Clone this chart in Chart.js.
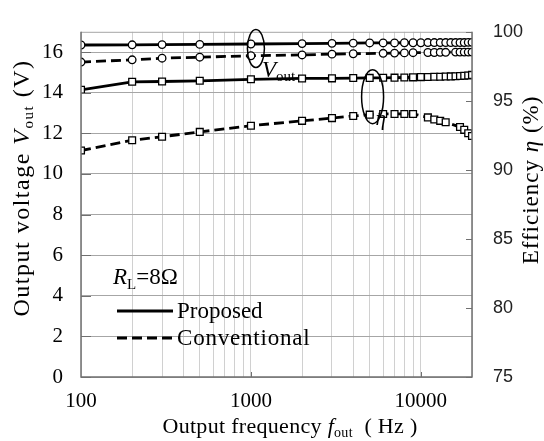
<!DOCTYPE html>
<html>
<head>
<meta charset="utf-8">
<script src="https://cdn.jsdelivr.net/npm/chart.js@4.4.0/dist/chart.umd.min.js"></script>
<style>
  html, body { margin: 0; padding: 0; background: #fff; }
  #wrap { width: 544px; height: 441px; }
</style>
</head>
<body>
<div id="wrap"><canvas id="c"></canvas></div>
<script>
// data
const freqs = [100, 200, 300, 500, 1000, 2000, 3000, 4000, 5000, 6000, 7000, 8000, 9000, 10000,
               11000, 12000, 13000, 14000, 15000, 16000, 17000, 18000, 19000, 20000];
const voutProposed = [16.35, 16.36, 16.37, 16.38, 16.40, 16.42, 16.43, 16.44, 16.45, 16.45, 16.45, 16.46,
                      16.46, 16.46, 16.47, 16.47, 16.47, 16.47, 16.47, 16.47, 16.47, 16.47, 16.48, 16.48];
const voutConventional = [15.51, 15.62, 15.70, 15.75, 15.82, 15.86, 15.90, 15.92, null, 15.94, 15.95, 15.96,
                          15.97, null, 15.98, 15.98, 15.99, 15.99, null, 16.0, 16.0, 16.0, 16.0, 16.0];
const etaProposed = [95.8, 96.38, 96.4, 96.45, 96.56, 96.62, 96.63, 96.65, 96.66, 96.67, 96.68, 96.69,
                     96.7, 96.72, 96.73, 96.74, 96.75, 96.76, 96.77, 96.78, 96.8, 96.82, 96.84, 96.88];
const etaConventional = [91.4, 92.15, 92.4, 92.75, 93.2, 93.55, 93.75, 93.9, 94.0, 94.05, 94.05, 94.05,
                         94.05, null, 93.8, 93.65, 93.55, 93.45, null, null, 93.1, 92.9, 92.65, 92.45];

const xGridTicks = [100, 200, 300, 400, 500, 600, 700, 800, 900, 1000, 2000, 3000, 4000, 5000, 6000,
                    7000, 8000, 9000, 10000, 20000];
const xTickLabels = [100, 1000, 10000];
const yTicks = [0, 2, 4, 6, 8, 10, 12, 14, 16];
const y1Ticks = [75, 80, 85, 90, 95, 100];

const serif = '"Liberation Serif", "Times New Roman", serif';
const sans = '"Liberation Sans", Arial, sans-serif';

function pts(vals) {
  return freqs.map((f, i) => ({ x: f, y: vals[i] }));
}

function series(vals, axis, dashed, style) {
  return {
    data: pts(vals),
    yAxisID: axis,
    borderColor: '#000',
    borderWidth: 2.8,
    borderDash: dashed ? [10, 5] : [],
    pointStyle: style,
    pointRadius: style === 'rect' ? 4.8 : 3.8,
    pointBackgroundColor: '#fff',
    pointBorderColor: '#000',
    pointBorderWidth: 1.3,
    spanGaps: true,
    tension: 0
  };
}

// draws text made of several pieces (italic, subscript...)
function richText(ctx, parts, x, y, align, spacing) {
  ctx.letterSpacing = (spacing || 0) + 'px';
  let w = 0;
  parts.forEach(p => { ctx.font = p.font; w += ctx.measureText(p.t).width; });
  let cx = align === 'center' ? x - w / 2 : x;
  ctx.textBaseline = 'alphabetic';
  ctx.textAlign = 'left';
  parts.forEach(p => {
    ctx.font = p.font;
    ctx.fillText(p.t, cx, y + (p.dy || 0));
    cx += ctx.measureText(p.t).width;
  });
  ctx.letterSpacing = '0px';
}

const decor = {
  id: 'decor',
  afterDatasetsDraw(chart) {
    const ctx = chart.ctx;
    const a = chart.chartArea;
    const sx = chart.scales.x, sy = chart.scales.y, sy1 = chart.scales.y1;
    ctx.save();
    // frame
    ctx.strokeStyle = '#a6a6a6';
    ctx.lineWidth = 1;
    ctx.beginPath(); ctx.moveTo(a.left, a.top + 0.5); ctx.lineTo(a.right, a.top + 0.5); ctx.stroke();
    ctx.strokeStyle = '#707070';
    ctx.lineWidth = 1.5;
    ctx.beginPath();
    ctx.moveTo(a.left, a.top); ctx.lineTo(a.left, a.bottom); ctx.lineTo(a.right, a.bottom); ctx.lineTo(a.right, a.top);
    ctx.stroke();
    // inner tick marks
    ctx.lineWidth = 1;
    yTicks.forEach(v => {
      const p = Math.round(sy.getPixelForValue(v)) + 0.5;
      ctx.beginPath(); ctx.moveTo(a.left, p); ctx.lineTo(a.left + 10, p); ctx.stroke();
    });
    y1Ticks.forEach(v => {
      const p = Math.round(sy1.getPixelForValue(v)) + 0.5;
      ctx.beginPath(); ctx.moveTo(a.right - 6, p); ctx.lineTo(a.right, p); ctx.stroke();
    });
    [1000, 10000].forEach(v => {
      const p = Math.round(sx.getPixelForValue(v)) + 0.5;
      ctx.beginPath(); ctx.moveTo(p, a.bottom); ctx.lineTo(p, a.bottom - 5); ctx.stroke();
    });

    // ellipses + labels
    ctx.strokeStyle = '#000';
    ctx.fillStyle = '#000';
    ctx.lineWidth = 1.5;
    let ex = sx.getPixelForValue(1070), ey = sy.getPixelForValue(16.18);
    ctx.beginPath(); ctx.ellipse(ex, ey, 8.5, 19, 0, 0, Math.PI * 2); ctx.stroke();
    richText(ctx, [
      { t: 'V', font: 'italic 23px ' + serif },
      { t: 'out', font: '15px ' + serif, dy: 4 }
    ], ex + 6, ey + 29, 'left');
    ex = sx.getPixelForValue(5200); ey = sy1.getPixelForValue(95.3);
    ctx.beginPath(); ctx.ellipse(ex, ey, 11, 27, 0, 0, Math.PI * 2); ctx.stroke();
    richText(ctx, [{ t: 'η', font: 'italic 21px ' + serif }], ex + 3, ey + 28, 'left');

    // legend
    richText(ctx, [
      { t: 'R', font: 'italic 23px ' + serif },
      { t: 'L', font: '15px ' + serif, dy: 5 },
      { t: '=8Ω', font: '23px ' + serif }
    ], 113, 284, 'left');
    ctx.lineWidth = 2.8;
    ctx.beginPath(); ctx.moveTo(117, 311); ctx.lineTo(173, 311); ctx.stroke();
    ctx.setLineDash([10, 5]);
    ctx.beginPath(); ctx.moveTo(117, 338); ctx.lineTo(173, 338); ctx.stroke();
    ctx.setLineDash([]);
    richText(ctx, [{ t: 'Proposed', font: '23px ' + serif }], 177, 318, 'left');
    richText(ctx, [{ t: 'Conventional', font: '23px ' + serif }], 177, 345, 'left', 0.8);

    // axis titles
    richText(ctx, [
      { t: 'Output frequency ', font: '22px ' + serif },
      { t: 'f', font: 'italic 22px ' + serif },
      { t: 'out', font: '14px ' + serif, dy: 4 },
      { t: '  ( Hz )', font: '22px ' + serif }
    ], 290, 433, 'center', 0.3);

    ctx.translate(29, 188);
    ctx.rotate(-Math.PI / 2);
    richText(ctx, [
      { t: 'Output voltage ', font: '24px ' + serif },
      { t: 'V', font: 'italic 24px ' + serif },
      { t: 'out', font: '15px ' + serif, dy: 4 },
      { t: ' (V)', font: '24px ' + serif }
    ], 0, 0, 'center', 1.5);
    ctx.setTransform(1, 0, 0, 1, 0, 0);

    ctx.translate(538, 180);
    ctx.rotate(-Math.PI / 2);
    richText(ctx, [
      { t: 'Efficiency ', font: '23px ' + serif },
      { t: 'η', font: 'italic 23px ' + serif },
      { t: ' (%)', font: '23px ' + serif }
    ], 0, 0, 'center', 1);
    ctx.restore();
  }
};

new Chart(document.getElementById('c'), {
  type: 'line',
  data: {
    datasets: [
      series(voutProposed, 'y', false, 'circle'),
      series(voutConventional, 'y', true, 'circle'),
      series(etaProposed, 'y1', false, 'rect'),
      series(etaConventional, 'y1', true, 'rect')
    ]
  },
  options: {
    responsive: true,
    maintainAspectRatio: false,
    animation: false,
    devicePixelRatio: 1,
    layout: { padding: { top: 24, left: 0, right: 0, bottom: 0 } },
    plugins: { legend: { display: false }, tooltip: { enabled: false } },
    scales: {
      x: {
        type: 'logarithmic',
        min: 100,
        max: 20000,
        afterBuildTicks: s => { s.ticks = xGridTicks.map(v => ({ value: v })); },
        afterFit: s => { s.height = 64; },
        ticks: {
          autoSkip: false,
          maxRotation: 0,
          padding: 12,
          color: '#000',
          font: { family: serif, size: 21 },
          callback: v => xTickLabels.includes(v) ? String(v) : ''
        },
        grid: { color: '#d0d0d0', lineWidth: 1, drawTicks: false },
        border: { display: false }
      },
      y: {
        position: 'left',
        min: 0,
        max: 17,
        afterBuildTicks: s => { s.ticks = yTicks.map(v => ({ value: v })); },
        afterFit: s => { s.width = 81; },
        ticks: { padding: 18, color: '#000', font: { family: serif, size: 21 } },
        grid: { color: '#a6a6a6', lineWidth: 1, drawTicks: false },
        border: { display: false }
      },
      y1: {
        position: 'right',
        min: 75,
        max: 100,
        afterBuildTicks: s => { s.ticks = y1Ticks.map(v => ({ value: v })); },
        afterFit: s => { s.width = 72; },
        ticks: { padding: 21, color: '#222', font: { family: sans, size: 18 } },
        grid: { drawOnChartArea: false, drawTicks: false },
        border: { display: false }
      }
    }
  },
  plugins: [decor]
});
</script>
</body>
</html>
